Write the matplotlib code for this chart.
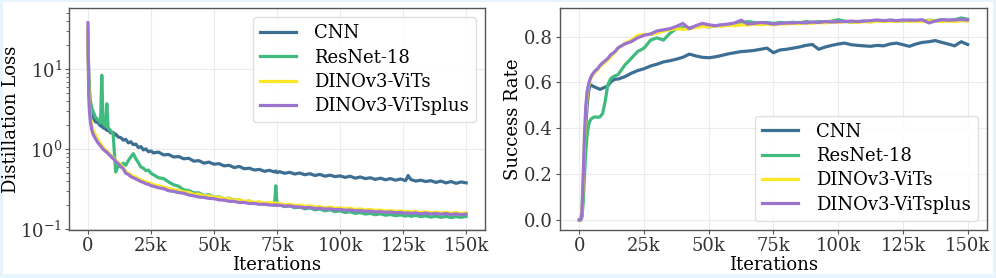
import numpy as np
import matplotlib
matplotlib.use("Agg")
import matplotlib.pyplot as plt
from matplotlib.patches import Rectangle
from matplotlib.ticker import FuncFormatter

# ---- data (iterations in thousands) ----
iters_loss = np.concatenate([
    [0, 0.3, 0.6, 1, 1.5, 2, 3, 4, 5, 5.5, 6, 7, 7.5, 8, 9, 10, 10.5, 11],
    np.arange(12, 27, 1), np.arange(28, 73, 2), [74, 74.5, 75],
    np.arange(76, 127, 2), [127], np.arange(128, 151, 2)])

loss_cnn = [30, 9.0, 4.0, 3.0, 2.7, 2.5, 2.2, 2.15, 1.95, 2.0, 1.85, 1.8, 1.72, 1.76, 1.6, 1.62, 1.5, 1.55,
            1.42, 1.4, 1.3, 1.33, 1.2, 1.24, 1.14, 1.16, 1.05, 1.08, 0.98, 1.01, 0.93, 0.95, 0.9,
            0.92, 0.85, 0.86, 0.8, 0.81, 0.76, 0.77, 0.71, 0.72, 0.67, 0.69, 0.65, 0.66, 0.62, 0.63, 0.59,
            0.61, 0.57, 0.58, 0.55, 0.56, 0.53, 0.545,
            0.52, 0.535, 0.51,
            0.525, 0.5, 0.515, 0.49, 0.505, 0.48, 0.495, 0.47, 0.485, 0.46, 0.475, 0.455, 0.465, 0.445,
            0.46, 0.435, 0.45, 0.43, 0.44, 0.42, 0.435, 0.415, 0.43, 0.41, 0.425, 0.405,
            0.47,
            0.42, 0.4, 0.41, 0.395, 0.405, 0.385, 0.4, 0.38, 0.395, 0.375, 0.39, 0.38]

loss_resnet = [20, 8.0, 5.7, 4.0, 3.3, 3.0, 2.5, 2.35, 2.15, 8.4, 2.1, 1.95, 3.7, 1.85, 1.7, 1.55, 0.9, 0.52,
               0.62, 0.6, 0.67, 0.63, 0.72, 0.8, 0.88, 0.76, 0.68, 0.6, 0.58, 0.54, 0.55, 0.5, 0.48,
               0.44, 0.43, 0.39, 0.36, 0.345, 0.31, 0.305, 0.285, 0.285, 0.265, 0.27, 0.25, 0.255, 0.24,
               0.245, 0.23, 0.235, 0.22, 0.225, 0.212, 0.218, 0.205, 0.21,
               0.2, 0.35, 0.2,
               0.203, 0.192, 0.197, 0.186, 0.19, 0.18, 0.185, 0.175, 0.179, 0.17, 0.175, 0.166, 0.17,
               0.162, 0.166, 0.158, 0.162, 0.155, 0.158, 0.152, 0.156, 0.15, 0.153, 0.148, 0.151, 0.146,
               0.15,
               0.145, 0.149, 0.144, 0.147, 0.142, 0.146, 0.141, 0.145, 0.14, 0.144, 0.141, 0.145]

loss_vits = [34, 6.0, 3.4, 2.5, 2.0, 1.75, 1.5, 1.3, 1.18, 1.12, 1.06, 0.98, 0.95, 0.91, 0.85, 0.78, 0.76, 0.73,
             0.68, 0.64, 0.59, 0.53, 0.5, 0.48, 0.455, 0.45, 0.425, 0.415, 0.4, 0.395, 0.38, 0.375, 0.36,
             0.35, 0.335, 0.325, 0.31, 0.308, 0.293, 0.29, 0.273, 0.275, 0.26, 0.262, 0.25, 0.252, 0.24,
             0.242, 0.23, 0.234, 0.224, 0.226, 0.217, 0.22, 0.212, 0.216,
             0.21, 0.215, 0.207,
             0.21, 0.202, 0.206, 0.198, 0.2, 0.193, 0.197, 0.19, 0.192, 0.186, 0.189, 0.183, 0.186,
             0.18, 0.183, 0.177, 0.18, 0.174, 0.177, 0.172, 0.174, 0.169, 0.172, 0.167, 0.17, 0.165,
             0.168,
             0.164, 0.167, 0.162, 0.165, 0.161, 0.164, 0.16, 0.163, 0.159, 0.162, 0.158, 0.16]

loss_vitsplus = [38, 5.0, 3.0, 2.2, 1.75, 1.55, 1.35, 1.2, 1.1, 1.05, 1.0, 0.94, 0.92, 0.88, 0.82, 0.76, 0.74, 0.7,
                 0.66, 0.61, 0.57, 0.5, 0.485, 0.455, 0.44, 0.425, 0.41, 0.395, 0.385, 0.37, 0.365, 0.35, 0.345,
                 0.33, 0.322, 0.303, 0.297, 0.287, 0.282, 0.268, 0.262, 0.253, 0.25, 0.243, 0.241, 0.233,
                 0.231, 0.224, 0.223, 0.216, 0.216, 0.21, 0.21, 0.205, 0.206, 0.201,
                 0.2, 0.203, 0.199,
                 0.2, 0.195, 0.196, 0.191, 0.19, 0.186, 0.187, 0.182, 0.183, 0.179, 0.18, 0.176, 0.177,
                 0.173, 0.174, 0.17, 0.171, 0.168, 0.168, 0.165, 0.166, 0.163, 0.164, 0.161, 0.162, 0.159,
                 0.16,
                 0.158, 0.16, 0.156, 0.159, 0.155, 0.158, 0.154, 0.157, 0.153, 0.156, 0.152, 0.155]

iters_sr = np.concatenate([
    [0, 0.5, 1, 1.5, 2, 2.5, 3, 3.5, 4, 4.5, 5, 6, 7, 8, 9, 10, 11, 12, 13, 14],
    np.arange(15, 150.1, 2.5)])

sr_cnn = [0, 0, 0.02, 0.15, 0.3, 0.42, 0.5, 0.555, 0.585, 0.59, 0.585, 0.58, 0.575, 0.57, 0.575, 0.58,
          0.585, 0.6, 0.61, 0.615,
          0.615, 0.625, 0.64, 0.652, 0.66, 0.672, 0.68, 0.69, 0.695, 0.702, 0.71, 0.724, 0.716, 0.71,
          0.708, 0.712, 0.718, 0.725, 0.73, 0.735, 0.737, 0.74, 0.745, 0.75, 0.73, 0.742, 0.745, 0.75,
          0.755, 0.762, 0.766, 0.745, 0.755, 0.762, 0.768, 0.772, 0.765, 0.762, 0.76, 0.758, 0.762,
          0.76, 0.768, 0.772, 0.765, 0.758, 0.768, 0.775, 0.778, 0.783, 0.775, 0.768, 0.76, 0.778, 0.766]

sr_resnet = [0, 0, 0.01, 0.08, 0.2, 0.3, 0.37, 0.41, 0.43, 0.44, 0.445, 0.45, 0.448, 0.45, 0.465, 0.52,
             0.59, 0.615, 0.625, 0.63,
             0.635, 0.675, 0.705, 0.735, 0.75, 0.785, 0.795, 0.785, 0.815, 0.835, 0.84, 0.838, 0.845,
             0.848, 0.842, 0.848, 0.85, 0.852, 0.855, 0.858, 0.866, 0.862, 0.86, 0.862, 0.858, 0.862,
             0.86, 0.863, 0.86, 0.866, 0.862, 0.866, 0.864, 0.868, 0.874, 0.868, 0.862, 0.866, 0.868,
             0.865, 0.87, 0.868, 0.872, 0.87, 0.868, 0.872, 0.87, 0.868, 0.872, 0.87, 0.874, 0.872,
             0.874, 0.882, 0.876]

sr_vits = [0, 0, 0.03, 0.18, 0.36, 0.47, 0.54, 0.58, 0.605, 0.62, 0.63, 0.645, 0.655, 0.67, 0.68, 0.69,
           0.7, 0.71, 0.725, 0.735,
           0.75, 0.77, 0.785, 0.805, 0.81, 0.81, 0.815, 0.825, 0.83, 0.835, 0.832, 0.835, 0.84, 0.845,
           0.843, 0.848, 0.845, 0.85, 0.848, 0.852, 0.85, 0.855, 0.852, 0.855, 0.852, 0.856, 0.855,
           0.858, 0.856, 0.86, 0.858, 0.862, 0.86, 0.864, 0.862, 0.866, 0.864, 0.862, 0.866, 0.864,
           0.868, 0.866, 0.868, 0.866, 0.87, 0.866, 0.868, 0.866, 0.87, 0.868, 0.866, 0.868, 0.866,
           0.87, 0.868]

sr_vitsplus = [0, 0, 0.03, 0.2, 0.38, 0.5, 0.56, 0.59, 0.61, 0.625, 0.635, 0.65, 0.66, 0.675, 0.686,
               0.695, 0.705, 0.72, 0.728, 0.738,
               0.752, 0.768, 0.778, 0.795, 0.806, 0.812, 0.825, 0.83, 0.835, 0.845, 0.858, 0.835, 0.848,
               0.858, 0.852, 0.848, 0.852, 0.855, 0.86, 0.872, 0.856, 0.858, 0.862, 0.86, 0.855, 0.858,
               0.86, 0.86, 0.862, 0.86, 0.864, 0.862, 0.866, 0.864, 0.866, 0.866, 0.868, 0.866, 0.868,
               0.87, 0.873, 0.87, 0.872, 0.87, 0.873, 0.872, 0.872, 0.874, 0.86, 0.868, 0.874, 0.872,
               0.873, 0.875, 0.873]

labels = ["CNN", "ResNet-18", "DINOv3-ViTs", "DINOv3-ViTsplus"]
colors = ["#3d6f93", "#40bb7d", "#fde725", "#9b74cf"]

plt.rcParams['font.family'] = 'DejaVu Serif'
plt.rcParams['font.size'] = 13

fig = plt.figure(figsize=(9.96, 2.78), dpi=100)
fig.patch.set_facecolor('#e7f4fb')
fig.patches.append(Rectangle((3 / 996, 4 / 278), 990 / 996, 272 / 278, transform=fig.transFigure,
                             facecolor='white', edgecolor='none', zorder=-10))

ax1 = fig.add_axes([0.0693, 0.1727, 0.4177, 0.7983])
ax2 = fig.add_axes([0.5622, 0.1727, 0.4288, 0.7983])

kfmt = FuncFormatter(lambda v, p: "0" if v == 0 else "%dk" % int(round(v)))

for ys, lab, col in zip([loss_cnn, loss_resnet, loss_vits, loss_vitsplus], labels, colors):
    ax1.plot(iters_loss, ys, color=col, lw=2.3, label=lab)
ax1.set_yscale('log')
ax1.set_ylim(0.098, 58)
ax1.set_ylabel('Distillation Loss', fontsize=13)
ax1.yaxis.set_label_coords(-0.118, 0.5)

for ys, lab, col in zip([sr_cnn, sr_resnet, sr_vits, sr_vitsplus], labels, colors):
    ax2.plot(iters_sr, ys, color=col, lw=2.3, label=lab)
ax2.set_ylim(-0.044, 0.925)
ax2.set_yticks([0.0, 0.2, 0.4, 0.6, 0.8])
ax2.set_ylabel('Success Rate', fontsize=13)
ax2.yaxis.set_label_coords(-0.09, 0.5)

for ax in (ax1, ax2):
    ax.set_xlim(-7.5, 157.5)
    ax.set_xticks([0, 25, 50, 75, 100, 125, 150])
    ax.xaxis.set_major_formatter(kfmt)
    ax.set_xlabel('Iterations', labelpad=1, fontsize=13)
    ax.grid(True, color='#ebebeb', lw=0.8)
    ax.set_axisbelow(True)
    for s in ax.spines.values():
        s.set_color('#555555')
        s.set_linewidth(1.0)
    ax.tick_params(colors='#555555', labelcolor='#333333', length=3, width=0.8, pad=2)
    ax.tick_params(which='minor', length=2, width=0.6, colors='#555555')

ax1.legend(loc='upper right', fontsize=13, framealpha=0.9, edgecolor='#dddddd', borderpad=0.4,
           labelspacing=0.35, handletextpad=1.0)
ax2.legend(loc='lower right', fontsize=13, framealpha=0.9, edgecolor='#dddddd', borderpad=0.4,
           labelspacing=0.35, handletextpad=1.0)

fig.savefig('out.png', dpi=100, facecolor=fig.get_facecolor())
